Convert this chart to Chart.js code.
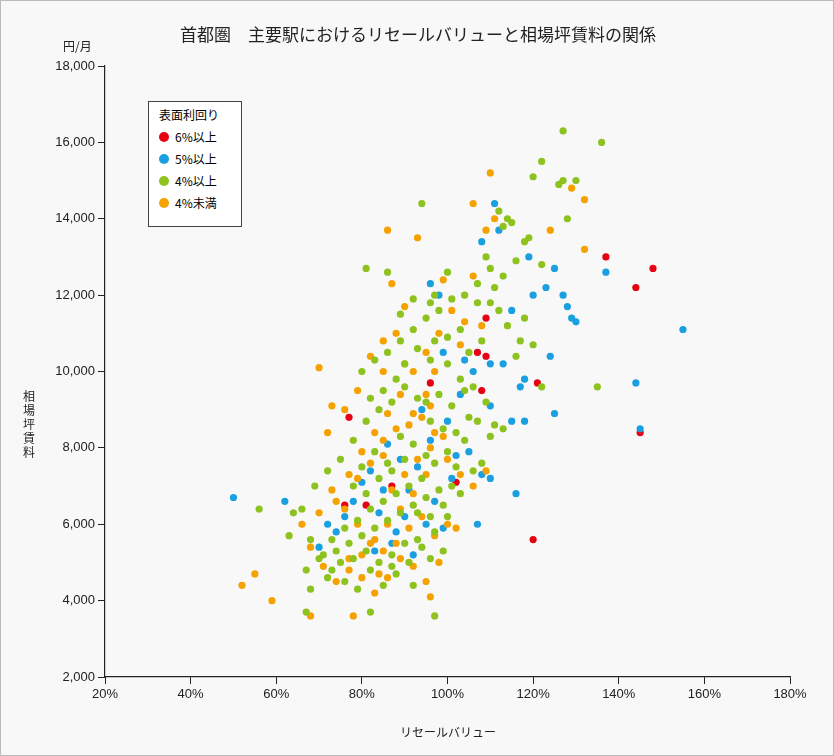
<!DOCTYPE html><html><head><meta charset="utf-8">
<script src="https://cdn.jsdelivr.net/npm/chart.js@4/dist/chart.umd.min.js"></script>
<style>
body{margin:0;background:#fff;font-family:"Noto Sans CJK JP",sans-serif}
#wrap{position:relative;width:832px;height:754px;border:1px solid #bbb;background:#f8f8f8}
.t{position:absolute;color:#222}
#leg{position:absolute;left:147px;top:100px;width:92px;height:124px;border:1px solid #444;background:#fff;font-size:12px}
#leg div{position:relative;height:22px;line-height:22px;padding-left:26px}
#leg span{position:absolute;left:10px;top:6px;width:10px;height:10px;border-radius:50%}
</style></head><body><div id="wrap">
<canvas id="c" width="832" height="754"></canvas>
<div class="t" style="left:0;width:834px;top:20px;text-align:center;font-size:17px">首都圏　主要駅におけるリセールバリューと相場坪賃料の関係</div>
<div class="t" style="left:62px;top:36px;font-size:12px">円/月</div>
<div class="t" style="left:22px;top:388px;width:14px;font-size:12px;line-height:14px">相<br>場<br>坪<br>賃<br>料</div>
<div class="t" style="left:0;width:834px;top:722px;text-align:center;font-size:12px;padding-left:60px;box-sizing:border-box">リセールバリュー</div>
<div id="leg"><div style="padding-left:10px;margin-top:2px">表面利回り</div>
<div><span style="background:#e60012"></span>6%以上</div>
<div><span style="background:#1a9fe0"></span>5%以上</div>
<div><span style="background:#8dc21f"></span>4%以上</div>
<div><span style="background:#f5a200"></span>4%未満</div></div>
</div>
<script>
const xTicks=[20,40,60,80,100,120,140,160,180];
const yTicks=[2000,4000,6000,8000,10000,12000,14000,16000,18000];
const red=[[77,8800],[81,6500],[87,7000],[96,9700],[102,7100],[107,10500],[108,9500],[109,11400],[109,10400],[121,9700],[120,5600],[137,13000],[144,12200],[148,12700],[145,8400],[76,6500]];
const blue=[[50,6700],[62,6600],[108,13400],[111,14400],[112,13700],[119,13000],[125,12700],[127,12000],[128,11700],[129,11400],[130,11300],[137,12600],[155,11100],[144,9700],[145,8500],[115,11600],[117,9600],[124,10400],[125,8900],[115,8700],[116,6800],[108,7300],[107,6000],[102,7800],[100,8700],[103,9400],[98,12000],[96,12300],[99,10500],[104,10300],[106,10000],[94,9000],[113,10200],[118,8700],[110,9100],[101,7200],[97,6600],[93,7500],[90,6200],[88,5800],[85,6900],[83,5300],[80,7100],[78,6600],[74,5800],[72,6000],[70,5400],[92,5200],[95,6000],[89,7700],[86,8100],[84,6300],[99,5900],[105,7900],[110,7200],[96,8200],[91,6900],[87,5500],[82,7400],[76,6200],[110,10200],[120,12000],[123,12200],[118,9800]];
const green=[[127,16300],[136,16000],[122,15500],[120,15100],[127,15000],[126,14900],[130,15000],[112,14200],[114,14000],[115,13900],[113,13800],[128,14000],[119,13500],[94,14400],[86,12600],[81,12700],[110,12700],[113,12500],[122,12800],[97,3600],[82,3700],[67,3700],[135,9600],[122,9600],[117,10800],[114,11200],[112,11600],[107,11800],[104,12000],[101,11900],[98,11600],[95,11400],[92,11100],[89,10800],[86,10500],[83,10300],[80,10000],[97,10800],[100,10200],[103,9800],[106,9600],[109,9200],[111,8600],[105,8800],[102,8400],[99,8500],[96,8700],[93,9300],[90,9600],[87,9200],[84,9000],[81,8700],[78,8200],[75,7700],[72,7400],[69,7000],[66,6400],[64,6300],[68,5600],[70,5100],[73,4800],[76,4500],[79,4300],[82,4800],[85,4400],[88,4700],[91,5000],[94,5400],[97,5800],[100,6200],[103,6800],[106,7400],[108,7600],[104,8200],[100,7900],[97,7600],[94,7200],[91,7000],[88,6800],[85,6600],[82,6400],[79,6100],[76,5900],[73,5600],[71,5200],[74,5300],[77,5500],[80,5700],[83,5900],[86,6100],[89,6300],[92,6500],[95,6700],[98,6900],[101,7000],[95,7800],[92,8100],[89,8300],[86,7600],[83,7900],[80,7500],[78,7000],[81,6800],[84,7200],[87,7400],[90,7700],[93,6300],[96,6200],[99,6500],[102,7500],[90,5500],[87,5200],[84,5000],[81,5300],[78,5100],[75,5000],[93,5600],[96,5100],[99,5300],[92,4400],[87,4900],[56,6400],[63,5700],[67,4800],[68,4300],[72,4600],[110,11800],[107,12300],[103,11100],[100,10900],[96,10300],[93,10600],[90,10200],[88,9800],[85,9500],[82,9300],[95,9200],[98,9400],[101,9100],[104,9500],[107,8700],[110,8300],[113,8500],[116,10400],[118,11400],[120,10700],[108,10800],[105,10500],[97,12000],[92,11900],[89,11500],[109,13000],[116,12900],[118,13400],[111,12200],[100,12600],[96,11800]];
const orange=[[110,15200],[111,14000],[106,14400],[109,13700],[124,13700],[132,14500],[129,14800],[132,13200],[86,13700],[93,13500],[99,12400],[106,12500],[70,10100],[72,8400],[59,4000],[52,4400],[55,4700],[68,3600],[78,3600],[96,4100],[74,6600],[77,7300],[80,7900],[83,8400],[86,8900],[89,9400],[92,10000],[95,10500],[98,11000],[101,11600],[88,11000],[85,10800],[82,10400],[79,9500],[76,9000],[73,9100],[85,10000],[90,10200],[94,8800],[97,8400],[100,7700],[103,7300],[106,7000],[109,7400],[95,7300],[92,6800],[89,6400],[86,6000],[83,5600],[80,5200],[77,4800],[74,4500],[71,4900],[68,5400],[66,6000],[70,6300],[73,6900],[76,6400],[79,6000],[82,5500],[85,5300],[88,5500],[91,5900],[94,6200],[97,5700],[100,6000],[102,5900],[98,5000],[95,4500],[92,4900],[89,5100],[86,4600],[83,4200],[80,4600],[77,5100],[84,4700],[87,6900],[90,7300],[93,7700],[96,8000],[99,8300],[91,8600],[88,8500],[85,8200],[82,7600],[79,7200],[85,7800],[92,8900],[95,9400],[97,10000],[103,10700],[108,11200],[104,11300],[96,9100],[90,11700],[87,12300]];
const ds=(d,c)=>({data:d.map(p=>({x:p[0],y:p[1]})),backgroundColor:c,borderWidth:0,pointRadius:3.6});
new Chart(document.getElementById('c'),{type:'scatter',
data:{datasets:[ds(green,'#8dc21f'),ds(orange,'#f5a200'),ds(blue,'#1a9fe0'),ds(red,'#e60012')]},
options:{animation:false,responsive:false,layout:{padding:{left:18,right:43,top:65,bottom:30}},
plugins:{legend:{display:false},tooltip:{enabled:false}},
scales:{
x:{type:'linear',min:20,max:180,afterBuildTicks:s=>{s.ticks=xTicks.map(v=>({value:v}))},afterFit:s=>{s.height=48},
 border:{color:'#222',width:1.2},grid:{drawOnChartArea:false,tickLength:7,color:'#222'},
 ticks:{color:'#222',font:{size:13,family:'Liberation Sans'},callback:v=>v+'%'}},
y:{min:2000,max:18000,afterBuildTicks:s=>{s.ticks=yTicks.map(v=>({value:v}))},afterFit:s=>{s.width=86},
 border:{color:'#222',width:1.2},grid:{drawOnChartArea:false,tickLength:7,color:'#222'},
 ticks:{color:'#222',font:{size:13,family:'Liberation Sans'},callback:v=>v.toLocaleString('en-US')}}}}});
</script></body></html>
